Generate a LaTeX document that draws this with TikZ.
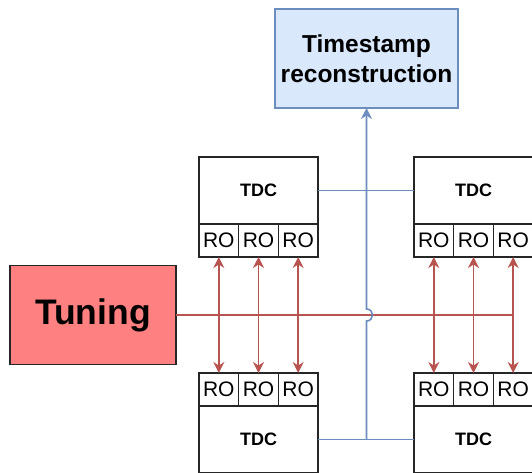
\documentclass[tikz,border=0pt]{standalone}
\usepackage{fontspec}
\setmainfont{Liberation Sans}
\usetikzlibrary{arrows.meta,calc}
\definecolor{redline}{HTML}{B85450}
\definecolor{blueln}{HTML}{6C8EBF}
\definecolor{tsfill}{HTML}{DAE8FC}
\definecolor{tunefill}{HTML}{FF8080}
\begin{document}
\begin{tikzpicture}[x=1pt,y=-1pt,
  box/.style={draw=black!85, line width=1.5pt, inner sep=0pt, outer sep=0pt},
  tdc/.style={box, minimum width=119pt, minimum height=67pt, font=\fontsize{18}{21}\selectfont\bfseries},
  ro/.style={box, minimum width=39.67pt, minimum height=33pt, font=\fontsize{21}{24}\selectfont},
  redarrow/.style={draw=redline, line width=1.6pt, {Stealth[length=11pt,width=11pt,inset=3.5pt]}-{Stealth[length=11pt,width=11pt,inset=3.5pt]}},
  redplain/.style={draw=redline, line width=1.6pt},
  blueplain/.style={draw=blueln, line width=1.6pt}]
\useasboundingbox (0,0) rectangle (532,472);

% Timestamp box
\node[box, draw=blueln, fill=tsfill, minimum width=183pt, minimum height=99pt, align=center,
  font=\fontsize{24.5}{30}\selectfont\bfseries] (ts) at (366.5,58.5) {Timestamp\\reconstruction};

% Tuning box
\node[box, fill=tunefill, minimum width=166pt, minimum height=99pt,
  font=\fontsize{35.5}{40}\selectfont\bfseries] (tune) at (93,315) {Tuning};

% Top-left TDC
\node[tdc] (tlT) at (258.5,190.5) {TDC};
\node[ro] (tlR1) at (218.83,240.5) {RO};
\node[ro] (tlR2) at (258.5,240.5) {RO};
\node[ro] (tlR3) at (298.17,240.5) {RO};

% Top-right TDC
\node[tdc] (trT) at (473.5,190.5) {TDC};
\node[ro] (trR1) at (433.83,240.5) {RO};
\node[ro] (trR2) at (473.5,240.5) {RO};
\node[ro] (trR3) at (513.17,240.5) {RO};

% Bottom-left TDC
\node[ro] (blR1) at (218.83,389.5) {RO};
\node[ro] (blR2) at (258.5,389.5) {RO};
\node[ro] (blR3) at (298.17,389.5) {RO};
\node[tdc] (blT) at (258.5,439.5) {TDC};

% Bottom-right TDC
\node[ro] (brR1) at (433.83,389.5) {RO};
\node[ro] (brR2) at (473.5,389.5) {RO};
\node[ro] (brR3) at (513.17,389.5) {RO};
\node[tdc] (brT) at (473.5,439.5) {TDC};

% Red tuning line
\coordinate (redend) at (trR3.south |- tune.east);
\draw[redplain] (tune.east) -- (redend);
\foreach \i in {1,2,3}{
  \draw[redarrow] (tlR\i.south) -- (blR\i.north);
  \draw[redarrow] (trR\i.south) -- (brR\i.north);
}

% Blue lines
\draw[blueplain] (tlT.east) -- (trT.west);
\draw[blueplain] (blT.east) -- (brT.west);
\coordinate (bjoin) at (ts.south |- blT.east);
\coordinate (hopB) at ($(ts.south |- tune.east)+(0,6)$);
\coordinate (hopT) at ($(ts.south |- tune.east)+(0,-6)$);
\draw[blueplain, -{Stealth[length=11pt,width=11pt,inset=3.5pt]}] (bjoin) -- (hopB)
  .. controls +(8,0) and +(8,0) .. (hopT) -- (ts.south);
\end{tikzpicture}
\end{document}
